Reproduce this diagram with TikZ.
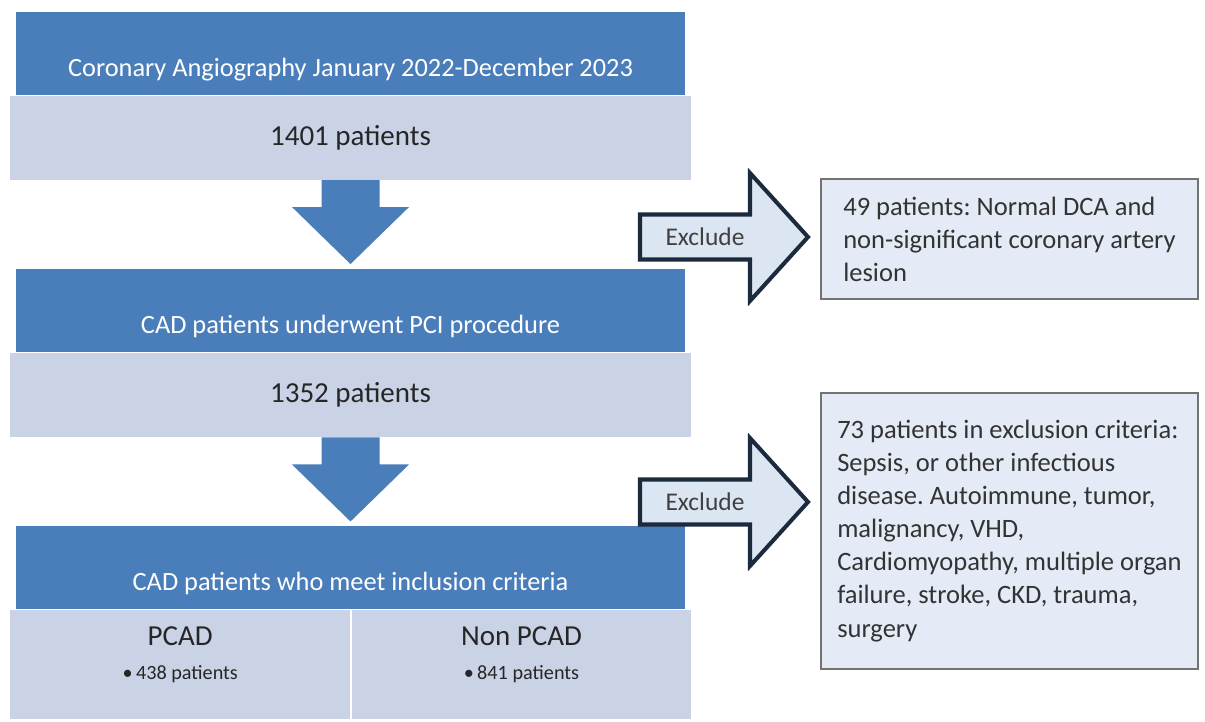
\documentclass[tikz,border=0pt]{standalone}
\usepackage{fontspec}
\setmainfont{Carlito}
\usetikzlibrary{positioning,calc}
\definecolor{flowblue}{RGB}{74,126,187}
\definecolor{flowgrey}{RGB}{201,211,229}
\definecolor{exfill}{RGB}{220,230,242}
\definecolor{exline}{RGB}{28,42,62}
\definecolor{notefill}{RGB}{228,235,246}
\frenchspacing
\tikzset{
  headbox/.style={fill=flowblue, text=white, minimum width=13.38cm, minimum height=1.66cm, inner sep=0pt, text height=1.0cm, font=\fontsize{15}{18}\selectfont},
  countbox/.style={fill=flowgrey, text=black!85, minimum width=13.6cm, minimum height=1.68cm, inner sep=0pt, font=\fontsize{16.5}{20}\selectfont},
  splitbox/.style={fill=flowgrey, text=black!85, minimum width=6.79cm, minimum height=2.18cm, inner sep=0pt, align=center, text depth=0.45cm, font=\fontsize{11.5}{13}\selectfont},
  notebox/.style={draw=black!55, line width=1.1pt, fill=notefill, text=black!80, anchor=north west, align=left, minimum width=7.54cm, font=\fontsize{15.1}{18.8}\selectfont},
  flowarrow/.style={fill=flowblue},
  exarrow/.style={draw=exline, line width=2.3pt, fill=exfill, line join=miter},
  exlabel/.style={inner sep=0pt, text=black!75, font=\fontsize{14.5}{17}\selectfont}
}
\begin{document}
\begin{tikzpicture}
\useasboundingbox (0,0) rectangle (24.1,-14.44);

% main flow
\node[headbox] (angio) at (7.01,-1.07) {Coronary Angiography January 2022-December 2023};
\node[countbox, below=0pt of angio] (angion) {1401 patients};
\node[headbox, below=1.78cm of angion] (pci) {CAD patients underwent PCI procedure};
\node[countbox, below=0pt of pci] (pcin) {1352 patients};
\node[headbox, below=1.76cm of pcin] (incl) {CAD patients who meet inclusion criteria};
\node[splitbox, anchor=north west] (pcad) at ($(incl.south west)+(-0.11,0)$) {{\fontsize{16.5}{20}\selectfont PCAD}\\[0.22cm]\textbullet\,438 patients};
\node[splitbox, anchor=north west] (npcad) at ($(pcad.north east)+(0.02,0)$) {{\fontsize{16.5}{20}\selectfont Non PCAD}\\[0.22cm]\textbullet\,841 patients};

% down arrows
\fill[flowarrow] ($(angion.south)+(-0.58,0)$) -- ++(0,-0.54) -- ++(-0.59,0) -- ($(pci.north)+(0,0.1)$) -- ++(1.17,1.14) -- ++(-0.59,0) -- ++(0,0.54) -- cycle;
\fill[flowarrow] ($(pcin.south)+(-0.58,0)$) -- ++(0,-0.54) -- ++(-0.59,0) -- ($(incl.north)+(0,0.08)$) -- ++(1.17,1.14) -- ++(-0.59,0) -- ++(0,0.54) -- cycle;

% exclusion boxes
\node[notebox, minimum height=2.4cm] (dca) at (16.4,-3.56) {49 patients: Normal DCA and\\ non-significant coronary artery\\ lesion};
\node[notebox, minimum height=5.52cm] (excl) at (16.4,-7.84) {73 patients in exclusion criteria:\\ Sepsis, or other infectious\\ disease. Autoimmune, tumor,\\ malignancy, VHD,\\ Cardiomyopathy, multiple organ\\ failure, stroke, CKD, trauma,\\ surgery};

% exclude arrows
\node[exlabel] (ex1) at (14.1,-4.74) {Exclude};
\draw[exarrow] ($(ex1)+(-1.3,0.45)$) -- ++(2.2,0) -- ++(0,0.83) -- ($(ex1)+(2.06,0)$) -- ($(ex1)+(0.9,-1.28)$) -- ++(0,0.83) -- ++(-2.2,0) -- cycle;
\node[exlabel] at (ex1) {Exclude};
\node[exlabel] (ex2) at (14.1,-10.04) {Exclude};
\draw[exarrow] ($(ex2)+(-1.3,0.45)$) -- ++(2.2,0) -- ++(0,0.83) -- ($(ex2)+(2.06,0)$) -- ($(ex2)+(0.9,-1.28)$) -- ++(0,0.83) -- ++(-2.2,0) -- cycle;
\node[exlabel] at (ex2) {Exclude};
\end{tikzpicture}
\end{document}
